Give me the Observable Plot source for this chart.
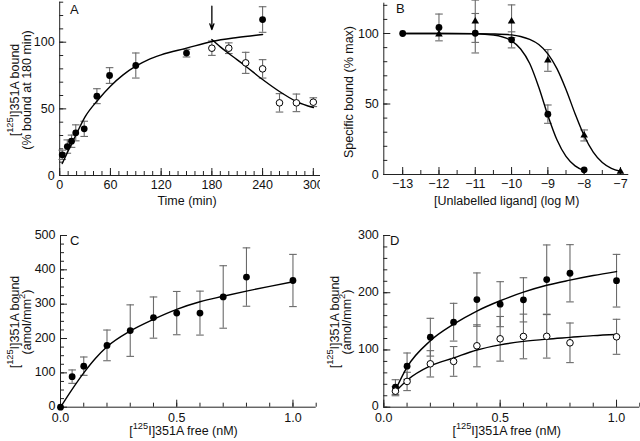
<!DOCTYPE html>
<html>
<head>
<meta charset="utf-8">
<script src="https://cdn.jsdelivr.net/npm/d3@7"></script>
<script src="https://cdn.jsdelivr.net/npm/@observablehq/plot@0.6"></script>
<style>
  body { margin: 0; background: #fff; }
  #fig { position: relative; width: 640px; height: 441px; background: #fff; }
  #fig svg { position: absolute; background: #fff; }
</style>
</head>
<body>
<div id="fig"></div>
<script>
// ---------------- Panel A: association / dissociation time course ----------------
const aTimeOn   = [3, 9, 14, 19, 29, 44, 59, 90, 150, 240];
const aBoundOn  = [15.5, 21.7, 25.7, 32, 35, 59.5, 75, 82.5, 91.8, 117];
const aErrOn    = [3.5, 5, 4.6, 6, 5.7, 5.6, 5.9, 9.4, 2.9, 9.6];
const aTimeOff  = [180, 200, 220, 240, 260, 280, 300];
const aBoundOff = [95.5, 95.5, 84.5, 80, 54.5, 54.5, 55];
const aErrOff   = [5.4, 4, 7.9, 6.9, 6.9, 6.6, 3.3];
const aFitOnT   = [3, 10, 20, 30, 45, 60, 75, 90, 105, 120, 150, 180, 210, 240];
const aFitOnY   = [9, 18.5, 31.5, 44, 56.5, 67, 75.5, 82, 87, 90.5, 95.5, 100.5, 103.5, 105.8];
const aFitOffT  = [180, 190, 200, 220, 240, 260, 280, 300];
const aFitOffY  = [102, 96.5, 91.5, 82, 72, 63, 55.5, 51];
const aArrow    = {x: 180, yFrom: 127, yTo: 109.5};

// ---------------- Panel B: competition ----------------
const bCircX    = [-13, -12, -11, -10, -9, -8];
const bCircY    = [100, 104.3, 100.2, 95.5, 42.8, 3.3];
const bCircErr  = [0, 9.5, 14, 5.7, 6.5, 0];
const bTriX     = [-12, -11, -10, -9, -8, -7];
const bTriY     = [99.5, 108.7, 108.7, 80.9, 27.7, 2.1];
const bTriErr   = [0, 15, 11.6, 7.7, 3.9, 0];
const bFitCircX = [-13, -12, -11, -10.5, -10, -9.75, -9.5, -9.25, -9, -8.75, -8.5, -8.25, -8];
const bFitCircY = [100, 100, 99.8, 98.9, 94.8, 89, 78.7, 61.9, 41.9, 24.6, 12.8, 6.1, 2.8];
const bFitTriX  = [-13, -12, -11, -10.5, -10, -9.75, -9.5, -9.25, -9, -8.75, -8.5, -8.25, -8, -7.75, -7.5, -7.25, -7];
const bFitTriY  = [100, 100, 99.9, 99.7, 99, 97.9, 95.8, 92.2, 85.6, 75.1, 60.3, 43.1, 27.5, 15.9, 8.5, 4.4, 2.3];

// ---------------- Panel C: saturation ----------------
const cFree  = [0, 0.05, 0.1, 0.2, 0.3, 0.4, 0.5, 0.6, 0.7, 0.8, 1.0];
const cBound = [0, 89, 119.5, 180, 223, 261, 274, 274, 321, 379, 369];
const cErr   = [0, 19.5, 26.7, 44.7, 75, 60, 63, 64, 91, 85, 76];
const cFitX  = [0, 0.05, 0.1, 0.15, 0.2, 0.3, 0.4, 0.5, 0.6, 0.7, 0.8, 0.9, 1.0];
const cFitY  = [0, 52, 100, 142, 176, 222, 256, 285, 307, 323, 338, 352, 365];

// ---------------- Panel D: saturation, two conditions ----------------
const dFree       = [0.05, 0.1, 0.2, 0.3, 0.4, 0.5, 0.6, 0.7, 0.8, 1.0];
const dFilled     = [35, 71.7, 122.3, 148.5, 188, 180, 187.6, 223, 234, 221];
const dFilledErr  = [13, 23, 33, 33, 46.6, 39.3, 38.6, 60.5, 50, 46];
const dOpen       = [28, 45, 75.8, 80, 107.3, 119.5, 123.6, 123.8, 112.5, 123];
const dOpenErr    = [8, 16, 23, 26, 36.7, 39, 39, 38, 34.6, 30.6];
const dFitX       = [0.05, 0.1, 0.2, 0.3, 0.4, 0.5, 0.6, 0.7, 0.8, 0.9, 1.0];
const dFitFilledY = [30, 70, 116, 145, 168, 186, 201, 213, 222, 230, 237];
const dFitOpenY   = [27, 47, 72, 86, 100, 109, 115, 119, 122, 125, 127];

// ---------------- ticks ----------------
const aXMajor = [0, 60, 120, 180, 240, 300];
const aXMinor = d3.range(0, 301, 10);
const aYMajor = [0, 50, 100];
const aYMinor = d3.range(0, 131, 10);
const bXMajor = [-13, -12, -11, -10, -9, -8, -7];
const bXMinor = d3.range(-13, -6.9, 0.5);
const bYMajor = [0, 50, 100];
const bYMinor = d3.range(0, 121, 10);
const cXMajor = [0, 0.5, 1.0];
const cXMinor = d3.range(0, 1.11, 0.1);
const cYMajor = [0, 100, 200, 300, 400, 500];
const cYMinor = d3.range(0, 501, 25);
const dXMajor = [0, 0.5, 1.0];
const dXMinor = d3.range(0, 1.11, 0.1);
const dYMajor = [0, 100, 200, 300];
const dYMinor = d3.range(0, 301, 20);

// ---------------- texts ----------------
const panelLetters = ["A", "B", "C", "D"];
const aXLabel  = "Time (min)";
const aYLabel  = ["[^125^I]351A bound", "(% bound at 180 min)"];
const bXLabel  = "[Unlabelled ligand] (log M)";
const bYLabel  = ["Specific bound (% max)"];
const cdXLabel = "[^125^I]351A free (nM)";
const cdYLabel = ["[^125^I]351A bound", "(amol/mm^2^)"];

const FONT = "'Liberation Sans', Arial, Helvetica, sans-serif";
const ERR = "#6a6a6a";
const capSymbol = { draw(ctx) { ctx.moveTo(-3.8, 0); ctx.lineTo(3.8, 0); } };

const zip = (xs, ys, es) => xs.map((x, i) => ({x, y: ys[i], e: es ? es[i] : 0}));
const minus = d => d < 0 ? "\u2212" + Math.abs(d) : String(d);

function errorMarks(data) {
  const withErr = data.filter(d => d.e > 0);
  return [
    Plot.ruleX(withErr, {x: "x", y1: d => d.y - d.e, y2: d => d.y + d.e, stroke: ERR, strokeWidth: 1.1}),
    Plot.dot(withErr, {x: "x", y: d => d.y + d.e, symbol: capSymbol, stroke: ERR, fill: "none", strokeWidth: 1.1}),
    Plot.dot(withErr, {x: "x", y: d => d.y - d.e, symbol: capSymbol, stroke: ERR, fill: "none", strokeWidth: 1.1})
  ];
}

function panel(o) {
  const fh = o.height - o.mt - o.mb;
  const fw = o.width - o.ml - o.mr;
  return Plot.plot({
    width: o.width, height: o.height,
    marginTop: o.mt, marginBottom: o.mb, marginLeft: o.ml, marginRight: o.mr,
    x: {domain: o.xDomain}, y: {domain: o.yDomain},
    style: {fontFamily: FONT, fontSize: "12.5px", color: "#111", background: "#fff", overflow: "visible"},
    marks: [
      Plot.ruleX([o.xDomain[0]], {stroke: "#222", strokeWidth: 1}),
      Plot.ruleY([o.yDomain[0]], {stroke: "#222", strokeWidth: 1}),
      Plot.tickX(o.xMinor, {x: d => d, insetTop: fh - 4, stroke: "#222"}),
      Plot.tickX(o.xMajor, {x: d => d, insetTop: fh - 7, stroke: "#222"}),
      Plot.tickY(o.yMinor, {y: d => d, insetRight: fw - 4, stroke: "#222"}),
      Plot.tickY(o.yMajor, {y: d => d, insetRight: fw - 7, stroke: "#222"}),
      Plot.axisX(o.xMajor, {tickSize: 0, tickPadding: o.xPad, tickFormat: o.xFmt, label: null, fill: "#111"}),
      Plot.axisY(o.yMajor, {tickSize: 0, tickPadding: 5, tickFormat: o.yFmt, label: null, fill: "#111", dy: o.yDy || 0}),
      ...o.marks
    ]
  });
}

function addText(svg, {x, y, rotate = 0, text, size = 12.5, anchor = "middle"}) {
  const t = d3.select(svg).append("text")
    .attr("transform", `translate(${x},${y}) rotate(${rotate})`)
    .attr("text-anchor", anchor)
    .attr("font-family", FONT)
    .attr("font-size", size)
    .attr("fill", "#111");
  const pieces = text.split("^");
  let prevSup = false;
  pieces.forEach((p, i) => {
    if (p === "") return;
    const sup = i % 2 === 1;
    const s = t.append("tspan").text(p);
    if (sup) { s.attr("font-size", size * 0.74).attr("dy", -size * 0.45); }
    else if (prevSup) { s.attr("dy", size * 0.45); }
    prevSup = sup;
  });
}

const fig = document.getElementById("fig");
function place(svg, left, top) {
  svg.style.left = left + "px";
  svg.style.top = top + "px";
  fig.appendChild(svg);
}

// ---- Panel A ----
const aOn = zip(aTimeOn, aBoundOn, aErrOn);
const aOff = zip(aTimeOff, aBoundOff, aErrOff);
const svgA = panel({
  width: 320, height: 220, mt: 1.7, mb: 45, ml: 59.2, mr: 0,
  xDomain: [0, 308.5], yDomain: [0, 130],
  xMajor: aXMajor, xMinor: aXMinor, yMajor: aYMajor, yMinor: aYMinor, xPad: 5,
  marks: [
    ...errorMarks(aOn), ...errorMarks(aOff),
    Plot.line(zip(aFitOnT, aFitOnY), {x: "x", y: "y", curve: "monotone-x", stroke: "#000", strokeWidth: 1.4}),
    Plot.line(zip(aFitOffT, aFitOffY), {x: "x", y: "y", curve: "monotone-x", stroke: "#000", strokeWidth: 1.4}),
    Plot.arrow([aArrow], {x1: "x", x2: "x", y1: "yFrom", y2: "yTo", stroke: "#000", strokeWidth: 1.3, headLength: 7, headAngle: 40}),
    Plot.dot(aOn, {x: "x", y: "y", r: 3.4, fill: "#000", stroke: "none"}),
    Plot.dot(aOff, {x: "x", y: "y", r: 3.3, fill: "#fff", stroke: "#000", strokeWidth: 1})
  ]
});
place(svgA, 0, 0);
addText(svgA, {x: 70, y: 13.5, text: panelLetters[0], size: 13, anchor: "start"});
addText(svgA, {x: 187, y: 204.5, text: aXLabel});
addText(svgA, {x: 18.5, y: 90, rotate: -90, text: aYLabel[0]});
addText(svgA, {x: 31, y: 90, rotate: -90, text: aYLabel[1]});

// ---- Panel B ----
const bC = zip(bCircX, bCircY, bCircErr);
const bT = zip(bTriX, bTriY, bTriErr);
const svgB = panel({
  width: 320, height: 220, mt: 2.7, mb: 46, ml: 63.3, mr: 11.7,
  xDomain: [-13.52, -6.77], yDomain: [0, 121.5],
  xMajor: bXMajor, xMinor: bXMinor, yMajor: bYMajor, yMinor: bYMinor, xPad: 5, xFmt: minus,
  marks: [
    ...errorMarks(bC), ...errorMarks(bT),
    Plot.line(zip(bFitTriX, bFitTriY), {x: "x", y: "y", curve: "monotone-x", stroke: "#000", strokeWidth: 1.4}),
    Plot.line(zip(bFitCircX, bFitCircY), {x: "x", y: "y", curve: "monotone-x", stroke: "#000", strokeWidth: 1.4}),
    Plot.dot(bT, {x: "x", y: "y", r: 2.8, symbol: "triangle", fill: "#000", stroke: "none"}),
    Plot.dot(bC, {x: "x", y: "y", r: 3.4, fill: "#000", stroke: "none"})
  ]
});
place(svgB, 320, 0);
addText(svgB, {x: 76, y: 12.5, text: panelLetters[1], size: 13, anchor: "start"});
addText(svgB, {x: 186.7, y: 204.5, text: bXLabel});
addText(svgB, {x: 33, y: 92, rotate: -90, text: bYLabel[0]});

// ---- Panel C ----
const cD = zip(cFree, cBound, cErr);
const svgC = panel({
  width: 320, height: 221, mt: 15, mb: 34.3, ml: 60, mr: 4.3,
  xDomain: [0, 1.1], yDomain: [0, 500],
  xMajor: cXMajor, xMinor: cXMinor, yMajor: cYMajor, yMinor: cYMinor, xPad: 5.5, yDy: -1, xFmt: d => d.toFixed(1),
  marks: [
    ...errorMarks(cD),
    Plot.line(zip(cFitX, cFitY), {x: "x", y: "y", curve: "monotone-x", stroke: "#000", strokeWidth: 1.4}),
    Plot.dot(cD, {x: "x", y: "y", r: 3.4, fill: "#000", stroke: "none"})
  ]
});
place(svgC, 0, 220);
addText(svgC, {x: 70, y: 24.5, text: panelLetters[2], size: 13, anchor: "start"});
addText(svgC, {x: 183.5, y: 215, text: cdXLabel});
addText(svgC, {x: 18.5, y: 102, rotate: -90, text: cdYLabel[0]});
addText(svgC, {x: 31, y: 102, rotate: -90, text: cdYLabel[1]});

// ---- Panel D ----
const dF = zip(dFree, dFilled, dFilledErr);
const dO = zip(dFree, dOpen, dOpenErr);
const svgD = panel({
  width: 320, height: 221, mt: 15, mb: 34.3, ml: 63.3, mr: 0.7,
  xDomain: [0, 1.1], yDomain: [0, 300],
  xMajor: dXMajor, xMinor: dXMinor, yMajor: dYMajor, yMinor: dYMinor, xPad: 5.5, yDy: -1, xFmt: d => d.toFixed(1),
  marks: [
    ...errorMarks(dF), ...errorMarks(dO),
    Plot.line(zip(dFitX, dFitFilledY), {x: "x", y: "y", curve: "monotone-x", stroke: "#000", strokeWidth: 1.4}),
    Plot.line(zip(dFitX, dFitOpenY), {x: "x", y: "y", curve: "monotone-x", stroke: "#000", strokeWidth: 1.4}),
    Plot.dot(dF, {x: "x", y: "y", r: 3.4, fill: "#000", stroke: "none"}),
    Plot.dot(dO, {x: "x", y: "y", r: 3.3, fill: "#fff", stroke: "#000", strokeWidth: 1})
  ]
});
place(svgD, 320, 220);
addText(svgD, {x: 70, y: 24.5, text: panelLetters[3], size: 13, anchor: "start"});
addText(svgD, {x: 186.7, y: 215, text: cdXLabel});
addText(svgD, {x: 18.5, y: 102, rotate: -90, text: cdYLabel[0]});
addText(svgD, {x: 31, y: 102, rotate: -90, text: cdYLabel[1]});
</script>
</body>
</html>
